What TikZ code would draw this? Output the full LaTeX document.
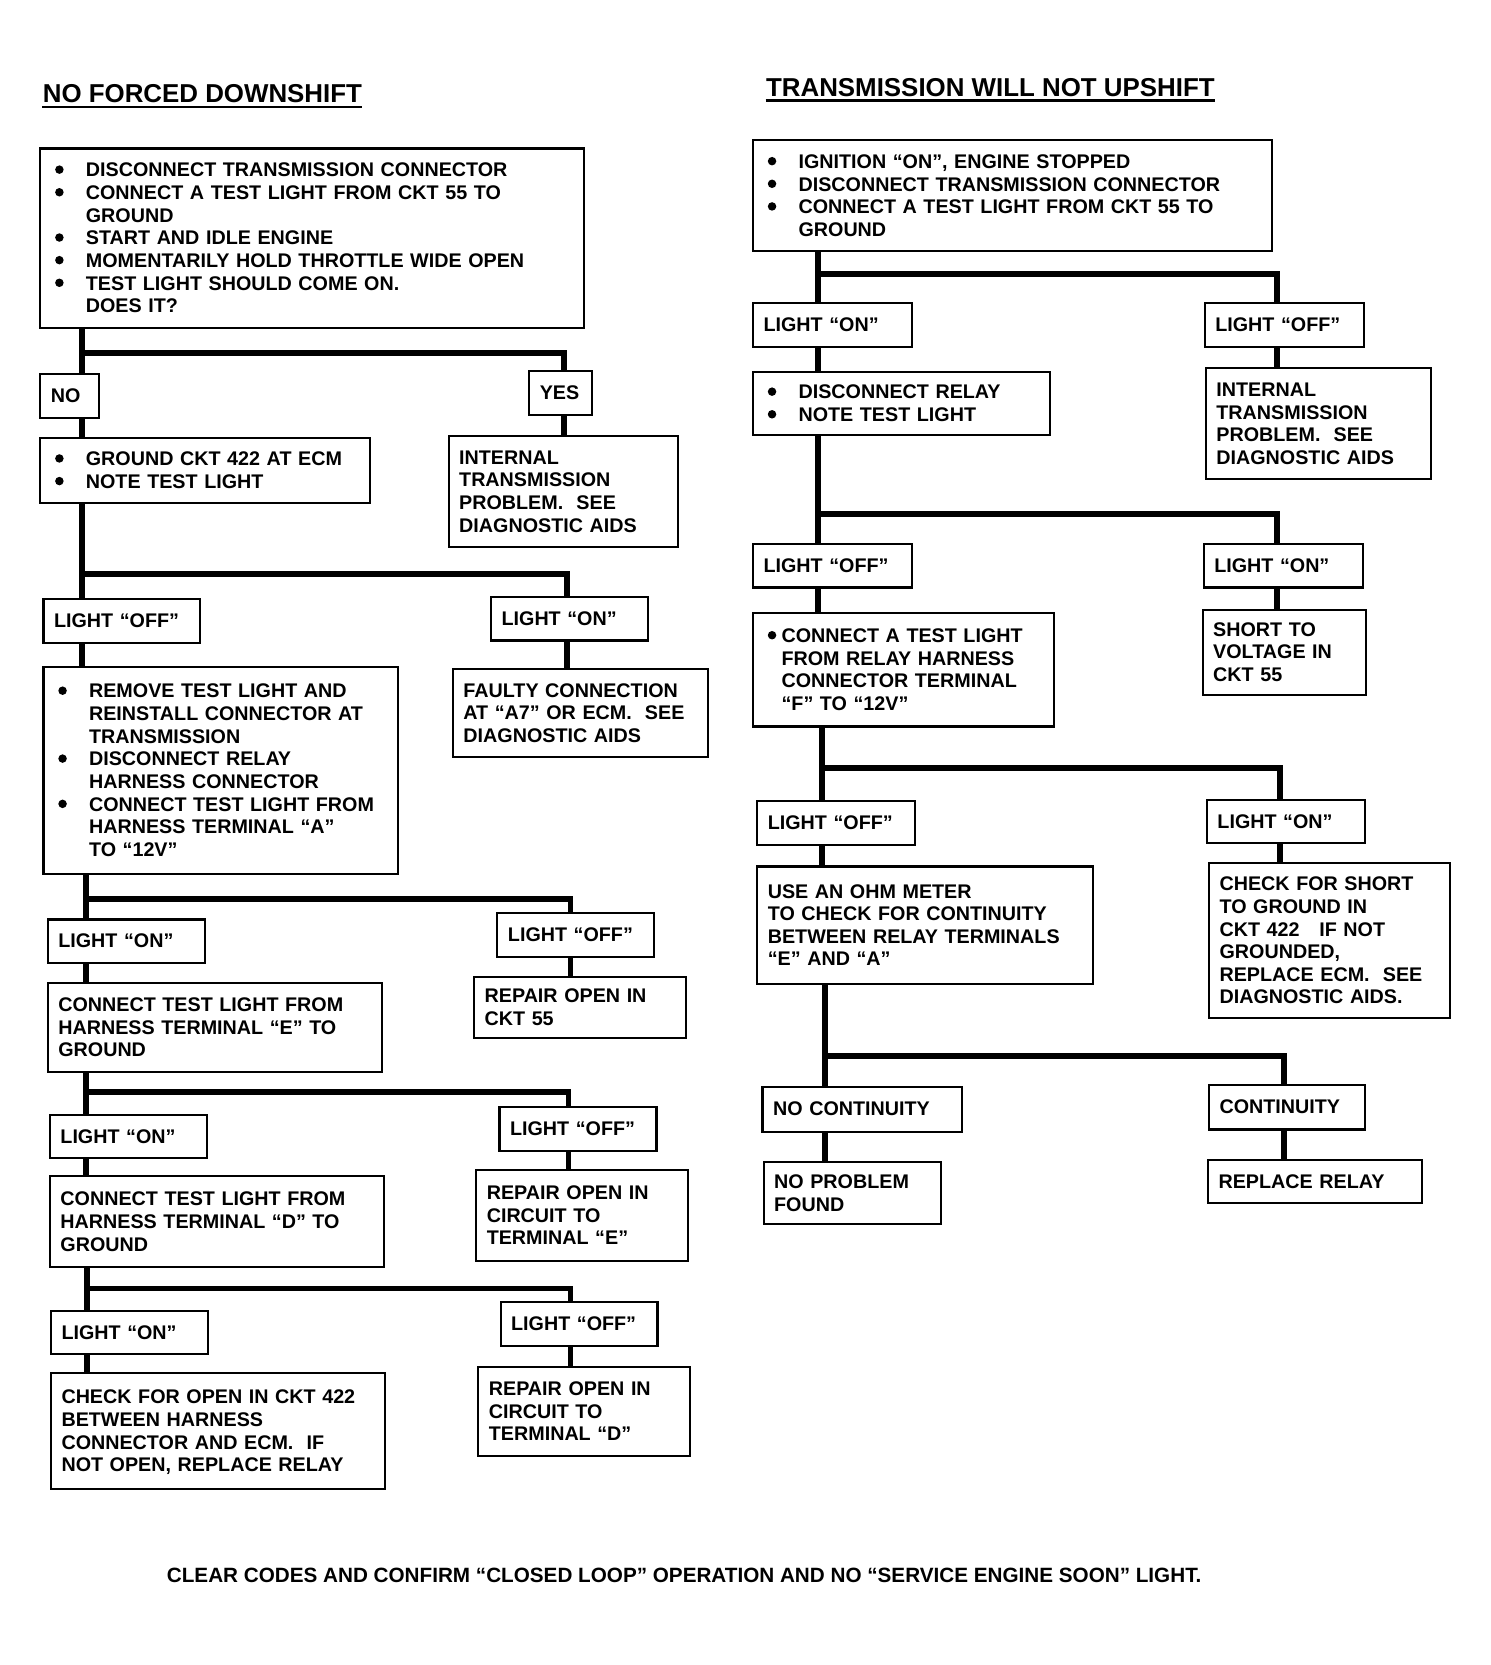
\documentclass[tikz,border=0pt]{standalone}
\usepackage{fontspec}
\setmainfont{Liberation Sans}
\usepackage{tikz}

\newcommand\boxfont{\fontsize{9.3}{10.67}\selectfont\bfseries}
\newcommand\ttlfont{\fontsize{12.2}{14}\selectfont\bfseries}
\newcommand\footfont{\fontsize{9.75}{11}\selectfont\bfseries}
\newcommand\bul[1][16.5pt]{\makebox[#1][l]{\hspace{2pt}\tikz[baseline=0pt]\fill (0,3.4pt) circle [radius=2pt];}}
\newcommand\skp[1][16.5pt]{\hspace*{#1}}
\newcommand\lns[1]{\raisebox{-1pt}[\height][\depth]{\begin{tabular}{@{}l@{}}#1\end{tabular}}}

\begin{document}
\begin{tikzpicture}[x=0.5pt, y=-0.5pt,
    box/.style={draw, line width=1pt, anchor=north west, inner xsep=5pt, inner ysep=0pt, font=\boxfont},
    tag/.style={box, text width=64pt, minimum height=20.5pt},
    flow/.style={line width=2.75pt},
    ttl/.style={anchor=base west, inner sep=0pt, font=\ttlfont}]

    \fill [white] (0, 0) rectangle (1405, 1570);

    \node [ttl] (ttl1) at (40, 97) {NO FORCED DOWNSHIFT};
    \node [ttl] (ttl2) at (722, 91) {TRANSMISSION WILL NOT UPSHIFT};
    \draw [line width=1.2pt] ([yshift=-2pt]ttl1.base west) -- ([yshift=-2pt]ttl1.base east);
    \draw [line width=1.2pt] ([yshift=-2pt]ttl2.base west) -- ([yshift=-2pt]ttl2.base east);

    \node [box, text width=246.5pt, minimum height=84.5pt] (tA) at (37, 139) {\lns{\bul DISCONNECT TRANSMISSION CONNECTOR\\ \bul CONNECT A TEST LIGHT FROM CKT 55 TO\\ \skp GROUND\\ \bul START AND IDLE ENGINE\\ \bul MOMENTARILY HOLD THROTTLE WIDE OPEN\\ \bul TEST LIGHT SHOULD COME ON.\\ \skp DOES IT?}};
    \node [box, text width=17.5pt, minimum height=20.5pt] (no1) at (37, 352) {\lns{NO}};
    \node [box, text width=19.5pt, minimum height=20.5pt] (yes1) at (498, 349) {\lns{YES}};
    \node [box, text width=145.5pt, minimum height=30.5pt] (tB) at (37, 412) {\lns{\bul GROUND CKT 422 AT ECM\\ \bul NOTE TEST LIGHT}};
    \node [box, text width=98pt, minimum height=52.5pt] (tC) at (422, 410) {\lns{INTERNAL\\ TRANSMISSION\\ PROBLEM.\ \ SEE\\ DIAGNOSTIC AIDS}};
    \node [tag] (off1) at (40, 564) {\lns{LIGHT “OFF”}};
    \node [tag] (on1) at (462, 562) {\lns{LIGHT “ON”}};
    \node [box, text width=157pt, minimum height=97.5pt] (tD) at (40, 628) {\lns{\bul REMOVE TEST LIGHT AND\\ \skp REINSTALL CONNECTOR AT\\ \skp TRANSMISSION\\ \bul DISCONNECT RELAY\\ \skp HARNESS CONNECTOR\\ \bul CONNECT TEST LIGHT FROM\\ \skp HARNESS TERMINAL “A”\\ \skp TO “12V”}};
    \node [box, text width=110.5pt, minimum height=41.5pt] (tE) at (426, 630) {\lns{FAULTY CONNECTION\\ AT “A7” OR ECM.\ \ SEE\\ DIAGNOSTIC AIDS}};
    \node [tag] (on2) at (44, 866) {\lns{LIGHT “ON”}};
    \node [tag] (off2) at (468, 860) {\lns{LIGHT “OFF”}};
    \node [box, text width=147.5pt, minimum height=42pt] (tF) at (44, 926) {\lns{CONNECT TEST LIGHT FROM\\ HARNESS TERMINAL “E” TO\\ GROUND}};
    \node [box, text width=90pt, minimum height=29pt] (tG) at (446, 920) {\lns{REPAIR OPEN IN\\ CKT 55}};
    \node [tag] (on3) at (46, 1050) {\lns{LIGHT “ON”}};
    \node [tag] (off3) at (470, 1043) {\lns{LIGHT “OFF”}};
    \node [box, text width=147.5pt, minimum height=43pt] (tH) at (46, 1108) {\lns{CONNECT TEST LIGHT FROM\\ HARNESS TERMINAL “D” TO\\ GROUND}};
    \node [box, text width=90pt, minimum height=43pt] (tI) at (448, 1102) {\lns{REPAIR OPEN IN\\ CIRCUIT TO\\ TERMINAL “E”}};
    \node [tag] (on4) at (47, 1235) {\lns{LIGHT “ON”}};
    \node [tag] (off4) at (471, 1227) {\lns{LIGHT “OFF”}};
    \node [box, text width=147.5pt, minimum height=54.5pt] (tJ) at (47, 1294) {\lns{CHECK FOR OPEN IN CKT 422\\ BETWEEN HARNESS\\ CONNECTOR AND ECM.\ \ IF\\ NOT OPEN, REPLACE RELAY}};
    \node [box, text width=90pt, minimum height=42pt] (tK) at (450, 1288) {\lns{REPAIR OPEN IN\\ CIRCUIT TO\\ TERMINAL “D”}};

    \node [box, text width=234.5pt, minimum height=52.5pt] (tA2) at (709, 131) {\lns{\bul IGNITION “ON”, ENGINE STOPPED\\ \bul DISCONNECT TRANSMISSION CONNECTOR\\ \bul CONNECT A TEST LIGHT FROM CKT 55 TO\\ \skp GROUND}};
    \node [tag, text width=65pt] (on5) at (709, 285) {\lns{LIGHT “ON”}};
    \node [tag, text width=65pt] (off5) at (1135, 285) {\lns{LIGHT “OFF”}};
    \node [box, text width=130pt, minimum height=29.5pt] (tB2) at (709, 350) {\lns{\bul DISCONNECT RELAY\\ \bul NOTE TEST LIGHT}};
    \node [box, text width=96pt, minimum height=52.5pt] (tC2) at (1136, 346) {\lns{INTERNAL\\ TRANSMISSION\\ PROBLEM.\ \ SEE\\ DIAGNOSTIC AIDS}};
    \node [tag, text width=65pt] (off6) at (709, 512) {\lns{LIGHT “OFF”}};
    \node [tag, text width=65pt] (on6) at (1134, 512) {\lns{LIGHT “ON”}};
    \node [box, text width=132pt, minimum height=53.5pt] (tD2) at (709, 577) {\lns{\bul[8.5pt]CONNECT A TEST LIGHT\\ \skp[8.5pt]FROM RELAY HARNESS\\ \skp[8.5pt]CONNECTOR TERMINAL\\ \skp[8.5pt]“F” TO “12V”}};
    \node [box, text width=67pt, minimum height=40pt] (tE2) at (1133, 574) {\lns{SHORT TO\\ VOLTAGE IN\\ CKT 55}};
    \node [tag, text width=64.5pt, minimum height=21pt] (off7) at (713, 754) {\lns{LIGHT “OFF”}};
    \node [tag, text width=64.5pt] (on7) at (1137, 753) {\lns{LIGHT “ON”}};
    \node [box, text width=148.5pt, minimum height=55.5pt] (tF2) at (713, 816) {\lns{USE AN OHM METER\\ TO CHECK FOR CONTINUITY\\ BETWEEN RELAY TERMINALS\\ “E” AND “A”}};
    \node [box, text width=103.5pt, minimum height=73pt] (tG2) at (1139, 813) {\lns{CHECK FOR SHORT\\ TO GROUND IN\\ CKT 422\ \ \ IF NOT\\ GROUNDED,\\ REPLACE ECM.\ \ SEE\\ DIAGNOSTIC AIDS.}};
    \node [box, text width=84pt, minimum height=21pt] (nocont) at (718, 1024) {\lns{NO CONTINUITY}};
    \node [box, text width=63.5pt, minimum height=21pt] (cont) at (1139, 1022) {\lns{CONTINUITY}};
    \node [box, text width=73.5pt, minimum height=29pt] (tH2) at (719, 1095) {\lns{NO PROBLEM\\ FOUND}};
    \node [box, text width=91pt, minimum height=20pt] (tI2) at (1138, 1093) {\lns{REPLACE RELAY}};

    \node [anchor=base west, inner sep=0pt, font=\footfont] (foot) at (157, 1492) {CLEAR CODES AND CONFIRM “CLOSED LOOP” OPERATION AND NO “SERVICE ENGINE SOON” LIGHT.};

    \coordinate (jA) at (77, 333);
    \coordinate (kA) at (532, 333);
    \coordinate (jB) at (77, 541);
    \coordinate (kB) at (535, 541);
    \coordinate (jC) at (81, 848);
    \coordinate (kC) at (538, 848);
    \coordinate (jD) at (81, 1030);
    \coordinate (kD) at (536, 1030);
    \coordinate (jE) at (82, 1215);
    \coordinate (kE) at (538, 1215);
    \coordinate (jF) at (771, 258);
    \coordinate (kF) at (1204, 258);
    \coordinate (jG) at (771, 485);
    \coordinate (kG) at (1204, 485);
    \coordinate (jH) at (775, 724);
    \coordinate (kH) at (1207, 724);
    \coordinate (jI) at (778, 996);
    \coordinate (kI) at (1211, 996);

    \draw [flow] (jA |- tA.south) -- (jA |- no1.north);
    \draw [flow] (jA) -- (kA) -- (kA |- yes1.north);
    \draw [flow] (jA |- no1.south) -- (jA |- tB.north);
    \draw [flow] (kA |- yes1.south) -- (kA |- tC.north);

    \draw [flow] (jB |- tB.south) -- (jB |- off1.north);
    \draw [flow] (jB) -- (kB) -- (kB |- on1.north);
    \draw [flow] (jB |- off1.south) -- (jB |- tD.north);
    \draw [flow] (kB |- on1.south) -- (kB |- tE.north);

    \draw [flow] (jC |- tD.south) -- (jC |- on2.north);
    \draw [flow] (jC) -- (kC) -- (kC |- off2.north);
    \draw [flow] (jC |- on2.south) -- (jC |- tF.north);
    \draw [flow] (kC |- off2.south) -- (kC |- tG.north);

    \draw [flow] (jD |- tF.south) -- (jD |- on3.north);
    \draw [flow] (jD) -- (kD) -- (kD |- off3.north);
    \draw [flow] (jD |- on3.south) -- (jD |- tH.north);
    \draw [flow] (kD |- off3.south) -- (kD |- tI.north);

    \draw [flow] (jE |- tH.south) -- (jE |- on4.north);
    \draw [flow] (jE) -- (kE) -- (kE |- off4.north);
    \draw [flow] (jE |- on4.south) -- (jE |- tJ.north);
    \draw [flow] (kE |- off4.south) -- (kE |- tK.north);

    \draw [flow] (jF |- tA2.south) -- (jF |- on5.north);
    \draw [flow] (jF) -- (kF) -- (kF |- off5.north);
    \draw [flow] (jF |- on5.south) -- (jF |- tB2.north);
    \draw [flow] (kF |- off5.south) -- (kF |- tC2.north);

    \draw [flow] (jG |- tB2.south) -- (jG |- off6.north);
    \draw [flow] (jG) -- (kG) -- (kG |- on6.north);
    \draw [flow] (jG |- off6.south) -- (jG |- tD2.north);
    \draw [flow] (kG |- on6.south) -- (kG |- tE2.north);

    \draw [flow] (jH |- tD2.south) -- (jH |- off7.north);
    \draw [flow] (jH) -- (kH) -- (kH |- on7.north);
    \draw [flow] (jH |- off7.south) -- (jH |- tF2.north);
    \draw [flow] (kH |- on7.south) -- (kH |- tG2.north);

    \draw [flow] (jI |- tF2.south) -- (jI |- nocont.north);
    \draw [flow] (jI) -- (kI) -- (kI |- cont.north);
    \draw [flow] (jI |- nocont.south) -- (jI |- tH2.north);
    \draw [flow] (kI |- cont.south) -- (kI |- tI2.north);
  \end{tikzpicture}
\end{document}
